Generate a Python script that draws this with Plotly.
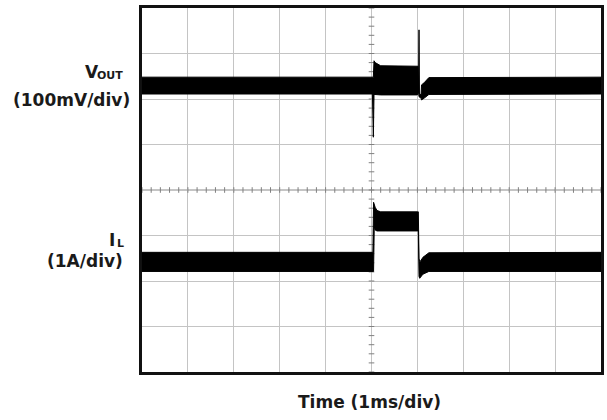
import numpy as np
import plotly.graph_objects as go

# ---- Scope capture: load-step response, values in screen divisions ----
# Time axis: 10 divisions (1 ms/div); vertical: 8 divisions.

# V_OUT trace envelope (upper / lower edge of the noisy band)
vout_t = [0.0, 5.02, 5.04, 5.055, 5.08, 5.2, 6.0, 6.015, 6.025, 6.035, 6.045, 6.08, 6.09, 6.15, 6.25, 10.0]
vout_hi = [6.48, 6.48, 6.48, 6.84, 6.80, 6.73, 6.72, 6.72, 6.20, 7.52, 6.10, 6.10, 6.31, 6.36, 6.47, 6.48]
vout_lo = [6.11, 6.11, 5.16, 6.10, 6.09, 6.09, 6.09, 6.09, 6.15, 6.05, 6.05, 6.02, 5.98, 6.02, 6.10, 6.11]

# Inductor current trace envelope
il_t = [0.0, 5.03, 5.045, 5.06, 5.08, 5.12, 5.2, 6.0, 6.02, 6.035, 6.05, 6.07, 6.12, 6.25, 10.0]
il_hi = [2.63, 2.63, 3.73, 3.68, 3.62, 3.55, 3.52, 3.52, 3.52, 2.50, 2.42, 2.44, 2.52, 2.62, 2.63]
il_lo = [2.21, 2.21, 2.21, 3.20, 3.12, 3.10, 3.10, 3.10, 3.10, 2.10, 2.06, 2.08, 2.15, 2.21, 2.21]

n_xdiv = 10
n_ydiv = 8

# plot-area geometry in pixels
L, R, T, B = 142, 604, 8, 372
W, H = 607, 420

FONT = "DejaVu Sans"
TXT = "#1a1a1a"


def px_x(px):
    return (px - L) / (R - L)


def px_y(py):
    return (B - py) / (B - T)


def band(t, hi, lo, name):
    xs = list(t) + list(t)[::-1]
    ys = list(hi) + list(lo)[::-1]
    return go.Scatter(
        x=xs, y=ys, mode="lines", fill="toself", fillcolor="#000000",
        line=dict(color="#000000", width=1), name=name, hoverinfo="skip",
        showlegend=False,
    )


fig = go.Figure()

# center cross with fine graduations
minor = np.arange(0, n_xdiv + 1e-9, 0.2)
minor_y = np.arange(0, n_ydiv + 1e-9, 0.2)
fig.add_shape(type="line", x0=0, x1=n_xdiv, y0=n_ydiv / 2, y1=n_ydiv / 2,
              line=dict(color="#8a8a8a", width=1), layer="below")
fig.add_shape(type="line", x0=n_xdiv / 2, x1=n_xdiv / 2, y0=0, y1=n_ydiv,
              line=dict(color="#8a8a8a", width=1), layer="below")
fig.add_trace(go.Scatter(
    x=minor, y=[n_ydiv / 2] * len(minor), mode="markers", hoverinfo="skip",
    marker=dict(symbol="line-ns", size=4, line=dict(color="#808080", width=1)),
    showlegend=False))
fig.add_trace(go.Scatter(
    x=[n_xdiv / 2] * len(minor_y), y=minor_y, mode="markers", hoverinfo="skip",
    marker=dict(symbol="line-ew", size=4, line=dict(color="#808080", width=1)),
    showlegend=False))

fig.add_trace(band(vout_t, vout_hi, vout_lo, "VOUT"))
fig.add_trace(band(il_t, il_hi, il_lo, "IL"))

axis_common = dict(
    showticklabels=False, ticks="", zeroline=False,
    showgrid=True, gridcolor="#c4c4c4", gridwidth=1, dtick=1, tick0=0,
    showline=True, linecolor="#111111", linewidth=3, mirror=True,
    fixedrange=True,
)
fig.update_xaxes(range=[0, n_xdiv], **axis_common)
fig.update_yaxes(range=[0, n_ydiv], **axis_common)


def label(text, right_px, cy_px, size):
    fig.add_annotation(
        text=text, xref="paper", yref="paper", x=px_x(right_px), y=px_y(cy_px),
        xanchor="right", yanchor="middle", showarrow=False,
        font=dict(family=FONT, size=size, color=TXT, weight="bold"),
    )


label("V", 101, 71.5, 17)
label("OUT", 125, 75, 11)
label("(100mV/div)", 132, 99.5, 17)
label("I", 116.5, 240, 17)
label("L", 126, 243.5, 11)
label("(1A/div)", 125, 261, 17)

fig.add_annotation(
    text="Time (1ms/div)", xref="paper", yref="paper",
    x=px_x(370.5), y=px_y(402), xanchor="center", yanchor="middle",
    showarrow=False, font=dict(family=FONT, size=17, color=TXT, weight="bold"),
)

fig.update_layout(
    width=W, height=H,
    margin=dict(l=L, r=W - R, t=T, b=H - B, pad=0),
    paper_bgcolor="white", plot_bgcolor="white",
    showlegend=False,
)

fig.write_html("out.html", config={"displayModeBar": False})
